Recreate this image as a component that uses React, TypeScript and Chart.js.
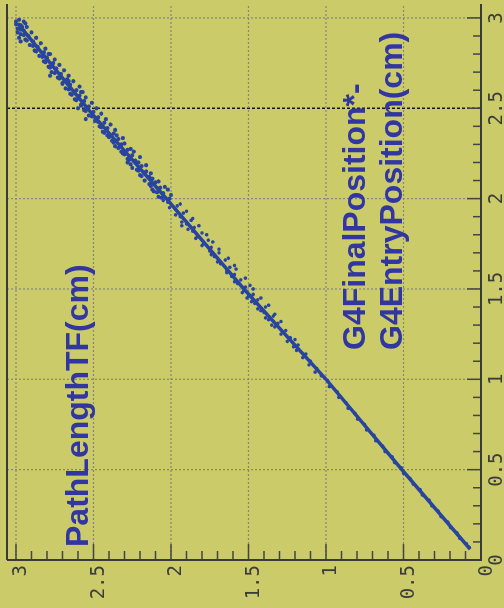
import React, { useEffect, useRef } from "react";
import { Chart, registerables } from "chart.js";

Chart.register(...registerables);

// ---- axis ticks / labels ----
const xTickValues = [0, 0.5, 1, 1.5, 2, 2.5, 3];
const xTickLabels = ["0", "0.5", "1", "1.5", "2", "2.5", "3"];
const yTickValues = [0, 0.5, 1, 1.5, 2, 2.5, 3];
const yTickLabels = ["0", "0.5", "1", "1.5", "2", "2.5", "3"];
const majorTickValues = [0.5, 1, 1.5, 2, 2.5, 3];
const minorTickValues = [
  0.1, 0.2, 0.3, 0.4, 0.6, 0.7, 0.8, 0.9, 1.1, 1.2, 1.3, 1.4, 1.6, 1.7, 1.8, 1.9,
  2.1, 2.2, 2.3, 2.4, 2.6, 2.7, 2.8, 2.9,
];
const gridValues = [0.5, 1, 1.5, 2, 2.5, 3];
const darkGridX = [2.5];

// ---- titles ----
const xTitleLines = ["G4FinalPosition*-", "G4EntryPosition(cm)"];
const yTitle = "PathLengthTF(cm)";

// ---- data: x = G4FinalPosition-G4EntryPosition (cm), y = PathLengthTF (cm) ----
const coreX = [0.06, 0.5, 1.0, 1.5, 2.0, 2.5, 2.97];
const coreY = [0.07, 0.51, 1.0, 1.53, 2.03, 2.54, 2.99];

const lowerPts: [number, number][] = [
  [0.07, 0.076], [0.09, 0.094], [0.12, 0.136], [0.15, 0.155], [0.18, 0.197], [0.21, 0.214],
  [0.24, 0.258], [0.27, 0.276], [0.30, 0.318], [0.33, 0.334], [0.36, 0.378], [0.39, 0.393],
  [0.42, 0.437], [0.45, 0.456], [0.48, 0.499], [0.51, 0.514], [0.54, 0.558], [0.57, 0.573],
  [0.60, 0.619], [0.63, 0.634], [0.66, 0.678], [0.69, 0.691], [0.72, 0.738], [0.75, 0.752],
  [0.78, 0.797], [0.81, 0.812], [0.84, 0.857], [0.87, 0.871], [0.90, 0.918], [0.93, 0.927],
  [0.96, 0.978], [0.99, 0.988],
];

const middlePts: [number, number][] = [
  [1.02, 1.03], [1.04, 1.07], [1.06, 1.06], [1.08, 1.11], [1.10, 1.10], [1.12, 1.15],
  [1.14, 1.13], [1.16, 1.19], [1.18, 1.21], [1.19, 1.18], [1.21, 1.25], [1.22, 1.20],
  [1.23, 1.23], [1.25, 1.29], [1.27, 1.26], [1.29, 1.33], [1.31, 1.31], [1.33, 1.37],
  [1.35, 1.34], [1.37, 1.40], [1.38, 1.42], [1.40, 1.39], [1.42, 1.46], [1.44, 1.44],
  [1.45, 1.51], [1.46, 1.50], [1.47, 1.47], [1.49, 1.53], [1.51, 1.52], [1.52, 1.49],
  [1.53, 1.57], [1.55, 1.55], [1.57, 1.61], [1.58, 1.59], [1.60, 1.64], [1.62, 1.62],
  [1.63, 1.59], [1.64, 1.68], [1.66, 1.65], [1.68, 1.72], [1.70, 1.69], [1.71, 1.75],
  [1.73, 1.74], [1.75, 1.79], [1.77, 1.76], [1.79, 1.83], [1.81, 1.80], [1.82, 1.86],
  [1.84, 1.85], [1.85, 1.93], [1.86, 1.90], [1.88, 1.87], [1.90, 1.94], [1.92, 1.92],
  [1.94, 1.97], [1.96, 1.96], [1.98, 2.02],
];

const middleSpread: [number, number][] = [
  [1.30, 1.35], [1.32, 1.29], [1.34, 1.39], [1.36, 1.33], [1.39, 1.44], [1.41, 1.37],
  [1.43, 1.48], [1.45, 1.42], [1.48, 1.54], [1.50, 1.47], [1.54, 1.59], [1.56, 1.52],
  [1.59, 1.64], [1.61, 1.58], [1.65, 1.70], [1.67, 1.63], [1.69, 1.74], [1.72, 1.69],
  [1.74, 1.80], [1.76, 1.73], [1.78, 1.84], [1.80, 1.77], [1.83, 1.89], [1.85, 1.82],
  [1.87, 1.93], [1.89, 1.86], [1.91, 1.97], [1.93, 1.90], [1.95, 2.01], [1.97, 1.94],
  [1.99, 2.05],
];

const upperPts: [number, number][] = [
  [2.00, 2.01], [2.01, 2.08], [2.03, 2.05], [2.04, 2.11], [2.05, 2.02], [2.06, 2.07],
  [2.07, 2.13], [2.09, 2.10], [2.10, 2.17], [2.12, 2.14], [2.13, 2.20], [2.15, 2.16],
  [2.16, 2.22], [2.18, 2.19], [2.19, 2.26], [2.20, 2.28], [2.21, 2.23], [2.22, 2.28],
  [2.24, 2.25], [2.25, 2.31], [2.26, 2.24], [2.27, 2.28], [2.28, 2.34], [2.30, 2.32],
  [2.31, 2.37], [2.33, 2.34], [2.34, 2.40], [2.35, 2.35], [2.36, 2.37], [2.37, 2.44],
  [2.39, 2.41], [2.40, 2.46], [2.42, 2.43], [2.43, 2.49], [2.44, 2.55], [2.45, 2.47],
  [2.46, 2.53], [2.48, 2.50], [2.49, 2.56], [2.50, 2.60], [2.51, 2.53], [2.52, 2.58],
  [2.54, 2.56], [2.55, 2.62], [2.57, 2.59], [2.58, 2.65], [2.59, 2.58], [2.60, 2.61],
  [2.61, 2.68], [2.63, 2.65], [2.64, 2.70], [2.65, 2.63], [2.66, 2.67], [2.67, 2.73],
  [2.68, 2.78], [2.69, 2.71], [2.70, 2.77], [2.72, 2.74], [2.73, 2.79], [2.75, 2.76],
  [2.76, 2.82], [2.78, 2.80], [2.79, 2.85], [2.80, 2.79], [2.81, 2.82], [2.82, 2.88],
  [2.84, 2.86], [2.85, 2.91], [2.87, 2.89], [2.88, 2.94], [2.89, 2.98], [2.90, 2.92],
  [2.91, 2.97], [2.93, 2.95], [2.94, 2.99], [2.95, 2.93], [2.96, 2.97], [2.98, 3.00],
  [2.99, 2.98],
];

const upperSpread: [number, number][] = [
  [2.005, 2.06], [2.02, 2.00], [2.035, 2.09], [2.05, 2.12], [2.065, 2.04], [2.08, 2.14],
  [2.095, 2.08], [2.11, 2.12], [2.125, 2.19], [2.14, 2.13], [2.155, 2.21], [2.17, 2.25],
  [2.185, 2.16], [2.20, 2.21], [2.215, 2.27], [2.23, 2.20], [2.245, 2.30], [2.26, 2.32],
  [2.275, 2.26], [2.29, 2.36], [2.305, 2.30], [2.32, 2.38], [2.335, 2.31], [2.35, 2.41],
  [2.365, 2.43], [2.38, 2.36], [2.395, 2.45], [2.41, 2.39], [2.425, 2.47], [2.44, 2.42],
  [2.455, 2.51], [2.47, 2.45], [2.485, 2.55], [2.50, 2.48], [2.515, 2.58], [2.53, 2.51],
  [2.545, 2.61], [2.56, 2.55], [2.575, 2.64], [2.59, 2.57], [2.605, 2.66], [2.62, 2.59],
  [2.635, 2.70], [2.65, 2.66], [2.665, 2.72], [2.68, 2.66], [2.695, 2.75], [2.71, 2.69],
  [2.725, 2.78], [2.74, 2.72], [2.755, 2.81], [2.77, 2.75], [2.785, 2.83], [2.80, 2.78],
  [2.815, 2.87], [2.83, 2.81], [2.845, 2.89], [2.86, 2.84], [2.875, 2.93], [2.89, 2.87],
  [2.905, 2.95], [2.92, 2.90], [2.935, 2.97], [2.95, 2.96], [2.965, 3.00], [2.98, 2.95],
  [2.87, 2.97], [2.92, 2.99], [2.97, 2.94],
];

// ---- styling ----
const W = 608;
const H = 504;
const BG = "#cbcb6a";
const BLUE = "#27449f";
const TITLE_BLUE = "#3136a0";
const AXIS = "#3a3a3a";
const TICK_TEXT = "#3c3c3c";

const rootStyle = {
  id: "rootStyle",
  beforeDraw(chart: any) {
    const ctx = chart.ctx;
    ctx.save();
    ctx.fillStyle = BG;
    ctx.fillRect(0, 0, chart.width, chart.height);
    ctx.restore();
  },
  beforeDatasetsDraw(chart: any) {
    const { ctx, chartArea: a, scales } = chart;
    const xs = scales.x;
    const ys = scales.y;
    ctx.save();
    for (const v of gridValues) {
      const px = xs.getPixelForValue(v);
      const dark = darkGridX.includes(v);
      ctx.beginPath();
      ctx.setLineDash(dark ? [3, 2] : [2, 2]);
      ctx.strokeStyle = dark ? "#151515" : "#858585";
      ctx.lineWidth = dark ? 1.5 : 1.2;
      ctx.moveTo(px, a.top);
      ctx.lineTo(px, a.bottom);
      ctx.stroke();
    }
    for (const v of gridValues) {
      const py = ys.getPixelForValue(v);
      ctx.beginPath();
      ctx.setLineDash([2, 2]);
      ctx.strokeStyle = "#858585";
      ctx.lineWidth = 1.2;
      ctx.moveTo(a.left, py);
      ctx.lineTo(a.right, py);
      ctx.stroke();
    }
    ctx.setLineDash([]);
    ctx.strokeStyle = "#444";
    ctx.lineWidth = 1.5;
    for (const v of minorTickValues) {
      const px = xs.getPixelForValue(v);
      ctx.beginPath();
      ctx.moveTo(px, a.bottom);
      ctx.lineTo(px, a.bottom - 8);
      ctx.stroke();
      const py = ys.getPixelForValue(v);
      ctx.beginPath();
      ctx.moveTo(a.left, py);
      ctx.lineTo(a.left + 9, py);
      ctx.stroke();
    }
    for (const v of majorTickValues) {
      const px = xs.getPixelForValue(v);
      ctx.beginPath();
      ctx.moveTo(px, a.bottom);
      ctx.lineTo(px, a.bottom - 14);
      ctx.stroke();
      const py = ys.getPixelForValue(v);
      ctx.beginPath();
      ctx.moveTo(a.left, py);
      ctx.lineTo(a.left + 16, py);
      ctx.stroke();
    }
    ctx.strokeStyle = AXIS;
    ctx.lineWidth = 2;
    ctx.beginPath();
    ctx.moveTo(a.left, a.top);
    ctx.lineTo(a.left, a.bottom);
    ctx.lineTo(a.right, a.bottom);
    ctx.stroke();
    ctx.beginPath();
    ctx.moveTo(a.left, a.top);
    ctx.lineTo(a.right, a.top);
    ctx.stroke();
    ctx.restore();
  },
  afterDraw(chart: any) {
    const { ctx, chartArea: a, scales } = chart;
    const xs = scales.x;
    const ys = scales.y;
    ctx.save();
    ctx.fillStyle = TICK_TEXT;
    ctx.font = "19px 'DejaVu Sans Mono'";
    ctx.textAlign = "center";
    ctx.textBaseline = "alphabetic";
    xTickValues.forEach((v, i) => {
      ctx.fillText(xTickLabels[i], xs.getPixelForValue(v), a.bottom + 21);
    });
    ctx.textAlign = "right";
    yTickValues.forEach((v, i) => {
      ctx.fillText(yTickLabels[i], a.left - 5, ys.getPixelForValue(v) + 10.5);
    });
    ctx.fillStyle = TITLE_BLUE;
    ctx.font = "bold 32px 'Liberation Sans', Arial, sans-serif";
    ctx.textAlign = "left";
    ctx.fillText(yTitle, 61, 88);
    ctx.fillText(xTitleLines[0], 258, 365);
    ctx.fillText(xTitleLines[1], 258, 402);
    ctx.restore();
  },
};

export default function App() {
  const canvasRef = useRef<HTMLCanvasElement | null>(null);

  useEffect(() => {
    document.body.style.background = BG;
    const canvas = canvasRef.current;
    if (!canvas) return;
    const toXY = (arr: [number, number][]) => arr.map(([px, py]) => ({ x: px, y: py }));
    const chart = new Chart(canvas, {
      type: "scatter",
      data: {
        datasets: [
          {
            label: "core",
            data: coreX.map((v, i) => ({ x: v, y: coreY[i] })),
            showLine: true,
            borderColor: BLUE,
            borderWidth: 3.5,
            pointRadius: 0,
            fill: false,
          },
          {
            label: "events",
            data: toXY([...lowerPts, ...middlePts, ...middleSpread]),
            showLine: false,
            pointRadius: 1.8,
            pointBorderWidth: 0,
            backgroundColor: BLUE,
            borderColor: BLUE,
          },
          {
            label: "events-upper",
            data: toXY([...upperPts, ...upperSpread]),
            showLine: false,
            pointRadius: 2.1,
            pointBorderWidth: 0,
            backgroundColor: BLUE,
            borderColor: BLUE,
          },
        ],
      },
      options: {
        animation: false,
        responsive: false,
        maintainAspectRatio: false,
        devicePixelRatio: 1,
        layout: { padding: { top: 7, left: 0, right: 0, bottom: 0 } },
        plugins: { legend: { display: false }, tooltip: { enabled: false } },
        scales: {
          x: {
            type: "linear",
            position: "bottom",
            min: 0,
            max: 3.077,
            grid: { display: false },
            border: { display: false },
            ticks: { display: false },
            afterFit: (s: any) => {
              s.height = 23;
            },
          },
          y: {
            type: "linear",
            position: "left",
            min: 0,
            max: 3.058,
            grid: { display: false },
            border: { display: false },
            ticks: { display: false },
            afterFit: (s: any) => {
              s.width = 48;
            },
          },
        },
      },
      plugins: [rootStyle],
    });
    return () => chart.destroy();
  }, []);

  return (
    <div
      style={{
        position: "fixed",
        left: 0,
        top: 0,
        width: W,
        height: H,
        transformOrigin: "0 0",
        transform: `translateY(${W}px) rotate(-90deg)`,
        background: BG,
      }}
    >
      <canvas ref={canvasRef} width={W} height={H} style={{ display: "block", width: W, height: H }} />
    </div>
  );
}
